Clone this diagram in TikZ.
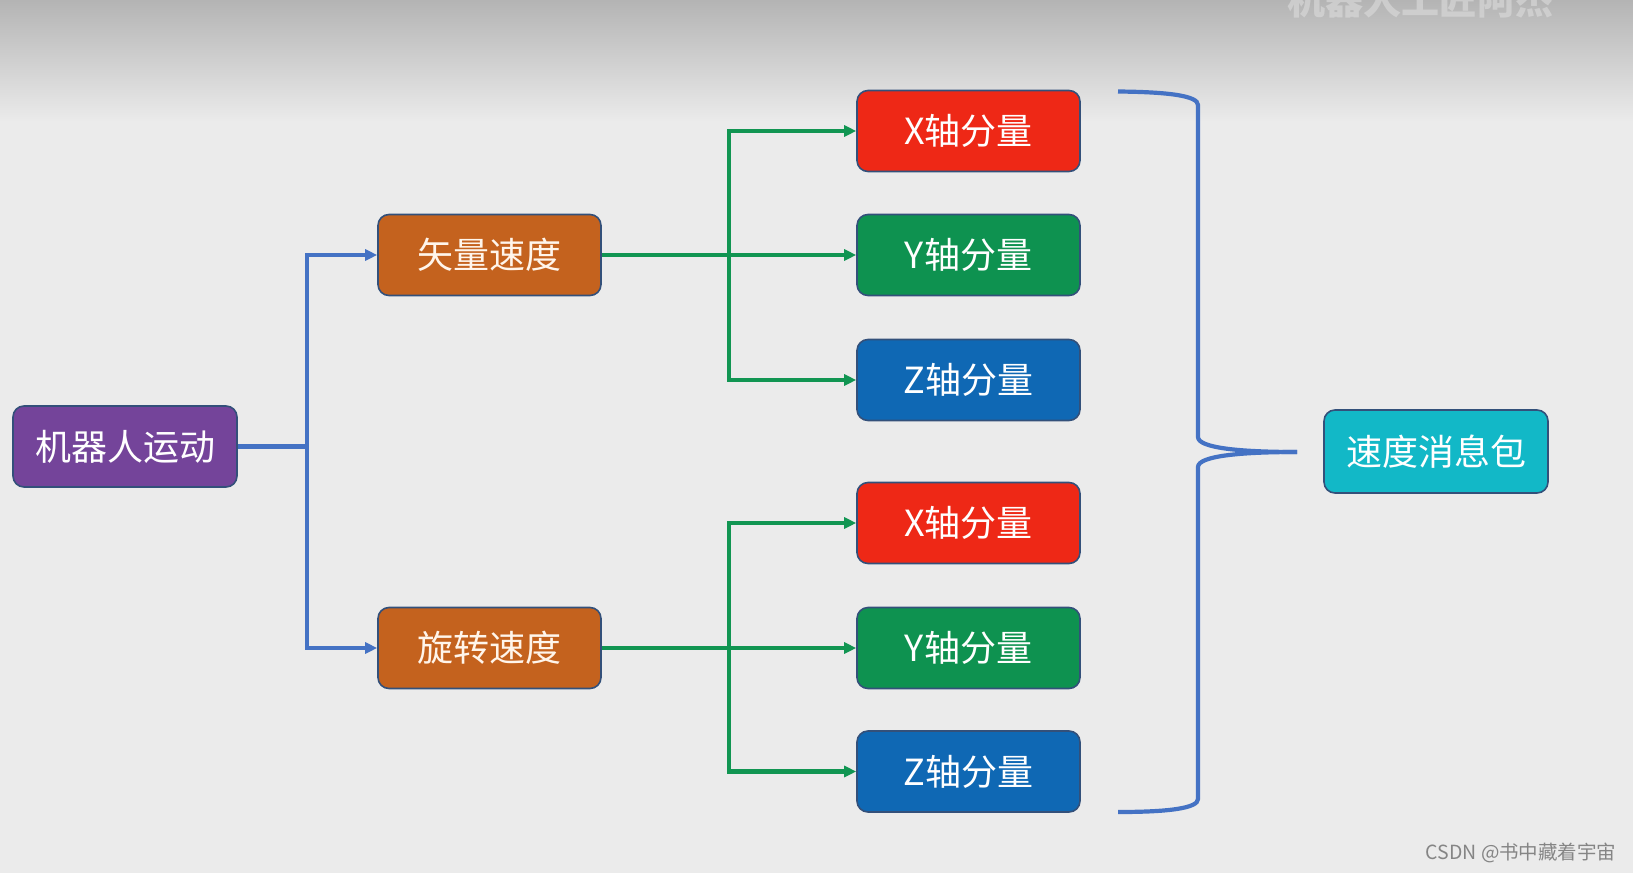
\documentclass[tikz,border=0pt]{standalone}
\usepackage{fontspec}
\newfontfamily\cjk{Noto Sans CJK SC}
\usetikzlibrary{arrows.meta}
\definecolor{bgc}{HTML}{EBEBEB}
\definecolor{bgtop}{HTML}{B4B4B4}
\definecolor{cpurple}{HTML}{74449A}
\definecolor{corange}{HTML}{C4621E}
\definecolor{cred}{HTML}{EE2816}
\definecolor{cgreen}{HTML}{0E9250}
\definecolor{cblue}{HTML}{0F68B4}
\definecolor{cteal}{HTML}{12B8C7}
\definecolor{cborder}{HTML}{33507A}
\definecolor{lblue}{HTML}{4472C4}
\definecolor{lgreen}{HTML}{119552}
\tikzset{
  box/.style={draw=cborder, line width=1.6pt, rounded corners=11pt, minimum width=223pt, minimum height=81pt, inner sep=0pt, text=white, font=\cjk\fontsize{36}{42}\selectfont},
  bconn/.style={draw=lblue, line width=4.2pt, -{Triangle[length=12pt,width=11pt]}},
  gconn/.style={draw=lgreen, line width=4.2pt, -{Triangle[length=12pt,width=11pt]}},
}
\begin{document}
\begin{tikzpicture}[x=1pt,y=-1pt]
\useasboundingbox (0,0) rectangle (1633,873);
\fill[bgc] (0,0) rectangle (1633,873);
\shade[top color=bgtop, bottom color=bgc] (0,0) rectangle (1633,122);
\node[text=white!88!black, opacity=0.55, font=\cjk\bfseries\fontsize{38}{40}\selectfont, anchor=base] (wm) at (1420,14) {机器人工匠阿杰};

\node[box, fill=cpurple, minimum width=224pt] (root) at (125,446.5) {机器人运动};
\node[box, fill=corange, text=white!92!orange] (vec) at (489.5,255) {矢量速度};
\node[box, fill=corange, text=white!92!orange] (rot) at (489.5,648) {旋转速度};
\node[box, fill=cred] (x1) at (968.5,131) {X轴分量};
\node[box, fill=cgreen] (y1) at (968.5,255) {Y轴分量};
\node[box, fill=cblue] (z1) at (968.5,380) {Z轴分量};
\node[box, fill=cred] (x2) at (968.5,523) {X轴分量};
\node[box, fill=cgreen] (y2) at (968.5,648) {Y轴分量};
\node[box, fill=cblue] (z2) at (968.5,771.5) {Z轴分量};
\node[box, fill=cteal, minimum width=224pt, minimum height=83pt] (pkg) at (1436,451.5) {速度消息包};

\coordinate (bj) at (307,446.5);
\draw[draw=lblue, line width=4.2pt] (root.east) -- (bj);
\draw[bconn] (bj) |- (vec.west);
\draw[bconn] (bj) |- (rot.west);

\coordinate (gj1) at (729,255);
\draw[draw=lgreen, line width=4.2pt] (vec.east) -- (gj1);
\draw[gconn] (gj1) |- (x1.west);
\draw[gconn] (gj1) -- (y1.west);
\draw[gconn] (gj1) |- (z1.west);

\coordinate (gj2) at (729,648);
\draw[draw=lgreen, line width=4.2pt] (rot.east) -- (gj2);
\draw[gconn] (gj2) |- (x2.west);
\draw[gconn] (gj2) -- (y2.west);
\draw[gconn] (gj2) |- (z2.west);

\coordinate (bt) at (1118,91.5);
\coordinate (bb) at (1118,812);
\coordinate (tip) at (1297,452);
\draw[lblue, line width=4.2pt]
  (bt) .. controls (1170,92) and (1198,96) .. (1198,105)
  -- (1198,437) .. controls (1198,448) and (1240,452) .. (tip);
\draw[lblue, line width=4.2pt]
  (tip) .. controls (1240,452) and (1198,456) .. (1198,467)
  -- (1198,799) .. controls (1198,808) and (1170,812) .. (bb);

\node[text=black!48, font=\cjk\fontsize{19.5}{22}\selectfont, anchor=east] (csdn) at (1620,853) {CSDN @书中藏着宇宙};
\end{tikzpicture}
\end{document}
